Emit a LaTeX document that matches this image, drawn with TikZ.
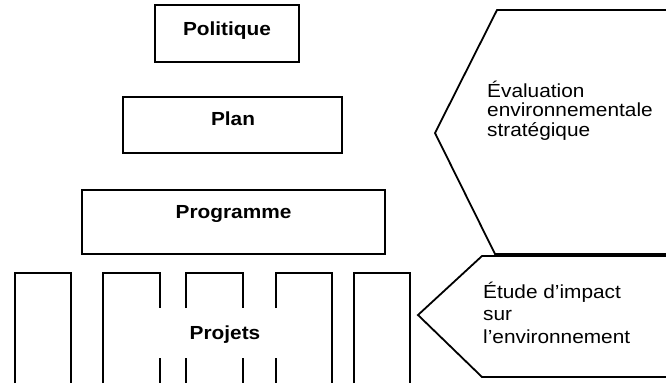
\documentclass[tikz,border=0pt]{standalone}
\usepackage{fontspec}
\setmainfont{Liberation Sans}[FakeStretch=1.1]
\begin{document}
\begin{tikzpicture}[x=1bp,y=-1bp,
  box/.style={draw=black,line width=2.3bp,inner sep=0pt,rectangle},
  lbl/.style={font=\fontsize{19}{21}\selectfont\bfseries,anchor=base,inner sep=0pt},
  rlbl/.style={font=\fontsize{19}{19.5}\selectfont,anchor=base west,align=left,inner sep=0pt},
  edge/.style={draw=black,line width=2.3bp,line join=miter},
  thin/.style={draw=black,line width=1.8bp,line join=miter}]
\useasboundingbox (0,0) rectangle (666,383);
% hierarchy boxes
\node[box,minimum width=144bp,minimum height=57bp] (polbox) at (227,33.5) {};
\node[box,minimum width=219bp,minimum height=56bp] (planbox) at (232.5,125) {};
\node[box,minimum width=303bp,minimum height=64bp] (progbox) at (233.5,222) {};
\node[lbl] (pol) at (227,35) {Politique};
\node[lbl] (plan) at (233,125) {Plan};
\node[lbl] (prog) at (233.5,218) {Programme};
% project boxes (open at bottom)
\draw[edge] (15,383) -- (15,273) -- (71,273) -- (71,383);
\draw[edge] (103,383) -- (103,273) -- (160,273) -- (160,308);
\draw[edge] (160,358) -- (160,383);
\draw[edge] (186,308) -- (186,273) -- (243,273) -- (243,308);
\draw[edge] (186,358) -- (186,383);
\draw[edge] (243,358) -- (243,383);
\draw[edge] (276,308) -- (276,273) -- (332,273) -- (332,383);
\draw[edge] (276,358) -- (276,383);
\draw[edge] (354,383) -- (354,273) -- (410,273) -- (410,383);
\node[lbl] (proj) at (225,339) {Projets};
% right-hand arrows
\coordinate (eesA) at (667,10);
\coordinate (eesB) at (497,10);
\coordinate (eesT) at (435,133);
\coordinate (eesC) at (495,254);
\coordinate (eesD) at (667,254);
\draw[thin] (eesA) -- (eesB) -- (eesT) -- (eesC) -- (eesD);
\coordinate (eiA) at (667,256);
\coordinate (eiB) at (482,256);
\coordinate (eiT) at (418,315);
\coordinate (eiC) at (482,377);
\coordinate (eiD) at (667,377);
\draw[thin] (eiA) -- (eiB) -- (eiT) -- (eiC) -- (eiD);
\node[rlbl] (ees) at (487,136) {Évaluation\\environnementale\\stratégique};
\node[rlbl,font=\fontsize{19}{22.5}\selectfont] (ei) at (483,343) {Étude d’impact\\sur\\l’environnement};
\end{tikzpicture}
\end{document}
